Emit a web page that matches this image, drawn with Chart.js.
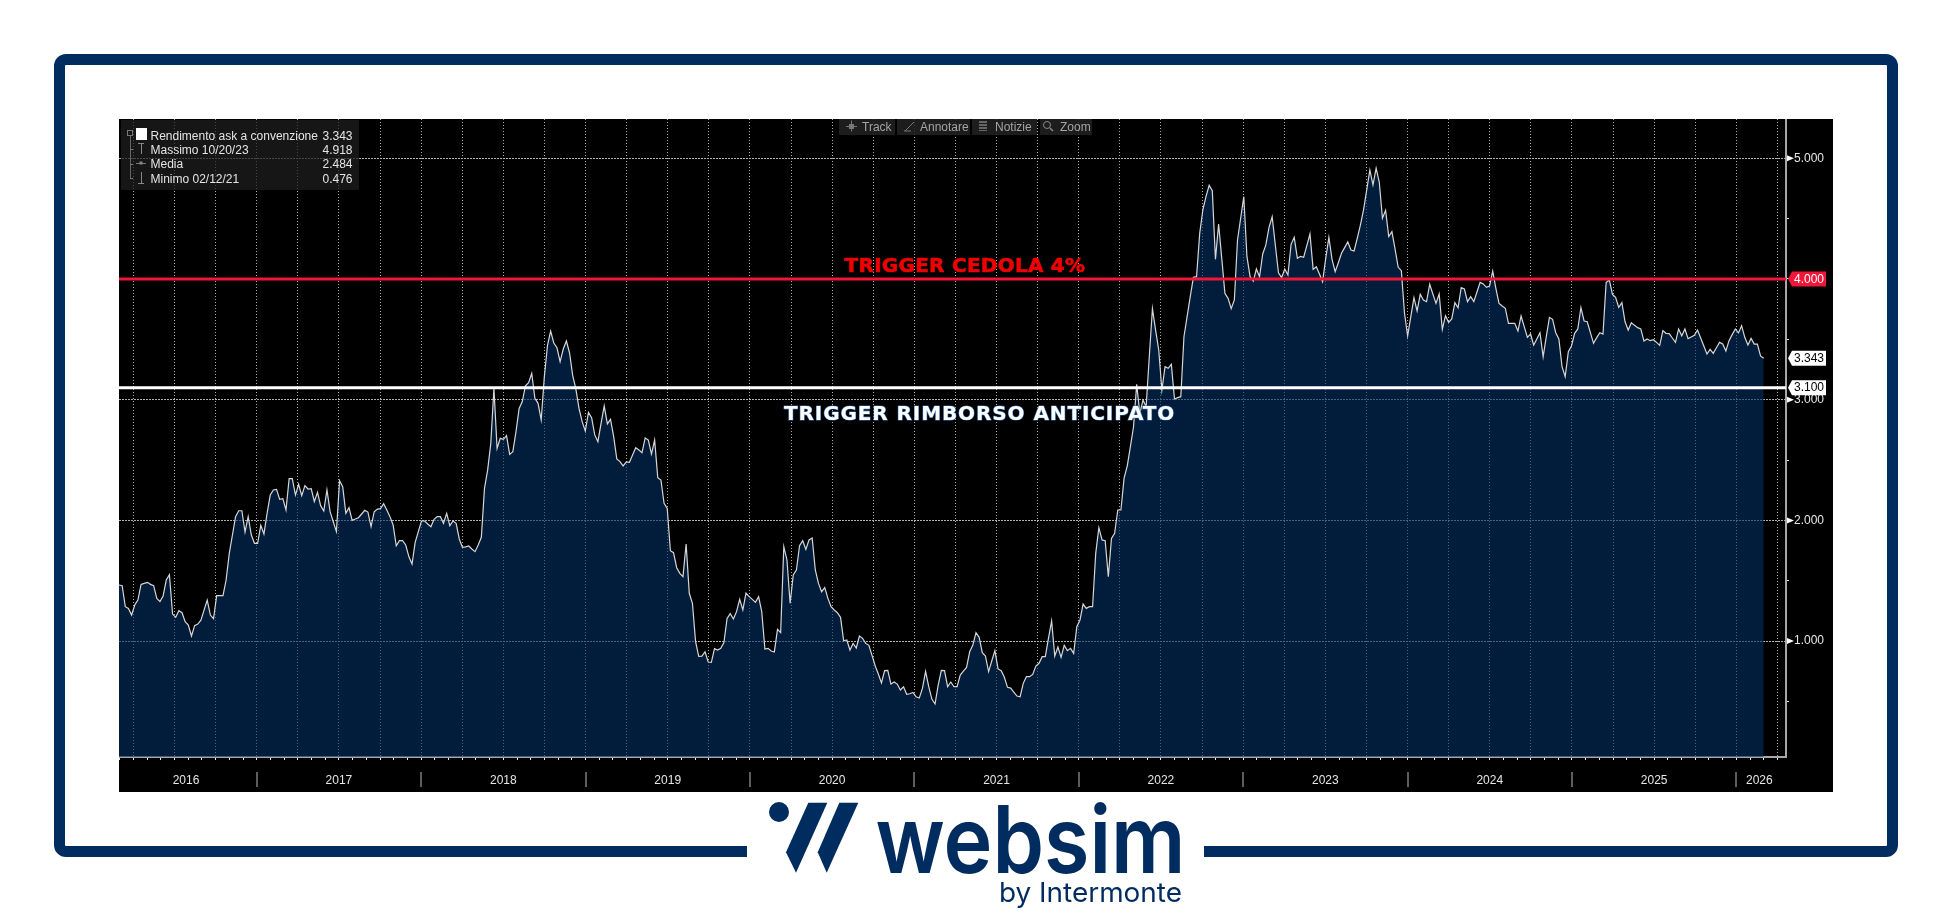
<!DOCTYPE html>
<html lang="it">
<head>
<meta charset="utf-8">
<title>Rendimento ask a convenzione</title>
<script src="https://cdn.jsdelivr.net/npm/chart.js@4/dist/chart.umd.min.js"></script>
<style>
    html, body { margin: 0; padding: 0; background: #fff; }
    body { position: relative; width: 1952px; height: 911px; overflow: hidden; }
    #cornice { position: absolute; left: 54px; top: 54px; width: 1822px; height: 781px; border: 11px solid #002c5f; border-radius: 12px; }
    #pannello { position: absolute; left: 119px; top: 119px; width: 1714px; height: 673px; background: #000; }
    #sopra { position: absolute; left: 0; top: 0; }
</style>
</head>
<body>
<div id="cornice"></div>
<div id="pannello"><canvas id="grafico"></canvas></div>
<svg id="sopra" width="1952" height="911" xmlns="http://www.w3.org/2000/svg"></svg>

<script>
// un valore per settimana
const yieldSeries = [
    1.465,1.459,1.285,1.27,1.216,1.299,1.34,1.47,1.478,1.487,
    1.47,1.459,1.354,1.327,1.374,1.506,1.55,1.224,1.197,1.252,
    1.235,1.161,1.133,1.042,1.128,1.141,1.174,1.257,1.34,1.216,
    1.186,1.376,1.376,1.376,1.506,1.727,1.879,2.031,2.08,2.08,
    1.904,2.031,1.879,1.81,1.81,1.959,1.887,2.058,2.21,2.252,
    2.257,2.174,2.18,2.086,2.346,2.346,2.21,2.299,2.205,2.288,
    2.26,2.263,2.155,2.232,2.122,2.078,2.252,2.072,1.989,1.907,
    2.329,2.279,2.058,2.105,2.0,2.011,2.022,2.053,2.083,2.069,
    1.948,2.072,2.094,2.097,2.138,2.086,2.031,1.962,1.79,1.832,
    1.832,1.796,1.7,1.639,1.818,1.907,1.995,1.995,1.97,1.948,
    2.009,2.031,2.031,1.976,2.058,1.956,1.995,1.976,1.846,1.777,
    1.78,1.788,1.763,1.741,1.796,1.86,2.265,2.417,2.638,3.094,
    2.597,2.68,2.672,2.702,2.547,2.569,2.735,2.928,2.984,3.116,
    3.141,3.218,3.011,2.97,2.832,3.191,3.45,3.569,3.47,3.43,
    3.315,3.42,3.486,3.387,3.2,3.09,2.928,2.818,2.741,2.895,
    2.851,2.708,2.652,2.804,2.948,2.799,2.837,2.694,2.509,2.487,
    2.451,2.484,2.481,2.542,2.602,2.583,2.561,2.683,2.666,2.55,
    2.666,2.354,2.335,2.141,2.1,1.749,1.733,1.608,1.561,1.534,
    1.804,1.396,1.313,0.995,0.874,0.876,0.912,0.827,0.824,0.937,
    0.926,0.94,0.987,1.188,1.227,1.183,1.244,1.346,1.258,1.398,
    1.368,1.346,1.321,1.368,1.244,0.934,0.94,0.918,0.91,1.097,
    1.07,1.782,1.672,1.313,1.548,1.589,1.791,1.832,1.76,1.838,
    1.854,1.589,1.478,1.409,1.443,1.354,1.285,1.258,1.235,1.197,
    1.003,1.009,0.926,0.981,0.943,1.042,1.023,0.981,0.965,0.882,
    0.796,0.727,0.653,0.755,0.758,0.644,0.661,0.644,0.595,0.622,
    0.559,0.564,0.575,0.539,0.528,0.608,0.749,0.622,0.52,0.479,
    0.636,0.758,0.755,0.622,0.661,0.622,0.622,0.719,0.752,0.782,
    0.912,0.968,1.07,1.031,0.904,0.876,0.747,0.835,0.921,0.769,
    0.755,0.7,0.617,0.611,0.578,0.545,0.539,0.65,0.705,0.705,
    0.724,0.793,0.816,0.871,0.871,1.023,1.166,0.876,0.951,0.865,
    0.965,0.921,0.94,0.898,1.119,1.175,1.307,1.271,1.285,1.285,
    1.727,1.94,1.838,1.832,1.534,1.851,1.893,2.086,2.086,2.35,
    2.45,2.611,2.776,3.127,2.887,2.997,2.942,3.356,3.754,3.577,
    3.412,3.08,3.274,3.26,3.293,3.006,3.017,3.025,3.522,3.688,
    3.854,4.014,4.019,4.378,4.572,4.682,4.776,4.732,4.163,4.456,
    4.171,3.881,3.84,3.754,3.826,4.323,4.503,4.682,4.185,4.019,
    3.983,4.083,4.019,4.207,4.282,4.428,4.516,4.282,4.052,4.011,
    4.083,4.033,4.287,4.345,4.171,4.188,4.18,4.276,4.373,4.08,
    4.102,4.041,3.978,4.171,4.345,4.163,4.061,4.135,4.213,4.26,
    4.307,4.24,4.232,4.337,4.447,4.572,4.737,4.903,4.779,4.918,
    4.801,4.503,4.569,4.351,4.392,4.25,4.097,4.069,3.716,3.528,
    3.688,3.845,3.735,3.873,3.826,3.812,3.956,3.876,3.798,3.876,
    3.583,3.696,3.641,3.669,3.804,3.762,3.928,3.917,3.812,3.854,
    3.812,3.892,3.972,3.959,3.931,3.942,4.066,3.923,3.798,3.776,
    3.757,3.633,3.633,3.633,3.569,3.693,3.605,3.517,3.544,3.453,
    3.503,3.555,3.356,3.522,3.682,3.666,3.555,3.503,3.273,3.191,
    3.398,3.445,3.55,3.586,3.762,3.652,3.646,3.555,3.467,3.514,
    3.555,3.544,3.97,3.992,3.873,3.848,3.765,3.804,3.646,3.577,
    3.638,3.616,3.597,3.586,3.486,3.503,3.489,3.497,3.475,3.45,
    3.572,3.55,3.547,3.511,3.475,3.586,3.53,3.586,3.506,3.519,
    3.533,3.577,3.511,3.445,3.378,3.417,3.384,3.431,3.475,3.461,
    3.403,3.489,3.539,3.586,3.553,3.613,3.517,3.453,3.508,3.461,
    3.461,3.362,3.343
];

const firstYear = 2016.1624;
const lastYear = 2026.302;
const weeksPerYear = 52.18;

const yearNames = ['2016', '2017', '2018', '2019', '2020', '2021', '2022', '2023', '2024', '2025', '2026'];
const yearCentres = [2016.57, 2017.5, 2018.5, 2019.5, 2020.5, 2021.5, 2022.5, 2023.5, 2024.5, 2025.5, 2026.14];
const yearStarts = [2017, 2018, 2019, 2020, 2021, 2022, 2023, 2024, 2025, 2026];

const yTicks = [0.5, 1, 1.5, 2, 2.5, 3, 3.5, 4, 4.5, 5];
const yLabelled = [1, 2, 3, 5];

const triggerCedola = 4;
const triggerRimborso = 3.1;
const lastValue = 3.343;

const legendRows = [
    ['Rendimento ask a convenzione', '3.343'],
    ['Massimo 10/20/23', '4.918'],
    ['Media', '2.484'],
    ['Minimo 02/12/21', '0.476']
];
const toolbarItems = ['Track', 'Annotare', 'Notizie', 'Zoom'];

const AXIS_FONT = '"Liberation Sans", Arial, sans-serif';
const NAVY = '#002c5f';

// tacche mensili, griglia solo ogni trimestre
const monthTicks = [];
for (let y = 2016; y <= 2026; y++) {
    for (let m = 0; m < 12; m++) {
        const v = y + m / 12;
        if (v > firstYear && v < lastYear) monthTicks.push({ v: v, quarter: m % 3 === 0 });
    }
}
const extraCentres = yearCentres.filter(c => !monthTicks.some(t => Math.abs(t.v - c) < 0.001));

function isQuarter(value) {
    return monthTicks.some(t => t.quarter && Math.abs(t.v - value) < 0.001);
}
function isExtra(value) {
    return extraCentres.some(c => Math.abs(c - value) < 0.001);
}
// niente margini extra: l'area del grafico arriva al bordo del pannello
function noPadding(scale) {
    scale.paddingLeft = 0;
    scale.paddingRight = 0;
    scale.paddingTop = 0;
    scale.paddingBottom = 0;
}

const yieldPoints = yieldSeries.map((v, i) => ({ x: firstYear + i / weeksPerYear, y: v }));

// separatori anni, etichette valore a destra e scritte sul grafico
const overlayPlugin = {
    id: 'overlay',
    afterDatasetsDraw(chart) {
        const { ctx, scales: { x, y }, chartArea } = chart;

        ctx.save();
        ctx.strokeStyle = '#7c7c7c';
        ctx.lineWidth = 1.5;
        yearStarts.forEach(year => {
            const px = Math.round(x.getPixelForValue(year));
            ctx.beginPath();
            ctx.moveTo(px, chartArea.bottom + 15);
            ctx.lineTo(px, chartArea.bottom + 30);
            ctx.stroke();
        });

        // triangolini sulle tacche principali
        ctx.fillStyle = '#fff';
        yLabelled.forEach(v => {
            const py = y.getPixelForValue(v);
            ctx.beginPath();
            ctx.moveTo(chartArea.right + 1, py - 3);
            ctx.lineTo(chartArea.right + 8, py);
            ctx.lineTo(chartArea.right + 1, py + 3);
            ctx.fill();
        });

        const tag = (value, text, bg, fg) => {
            const py = y.getPixelForValue(value);
            const left = chartArea.right + 6;
            ctx.fillStyle = bg;
            ctx.beginPath();
            ctx.moveTo(chartArea.right + 2, py);
            ctx.lineTo(left, py - 7.5);
            ctx.lineTo(left + 34, py - 7.5);
            ctx.lineTo(left + 34, py + 7.5);
            ctx.lineTo(left, py + 7.5);
            ctx.closePath();
            ctx.fill();
            ctx.fillStyle = fg;
            ctx.font = '12px ' + AXIS_FONT;
            ctx.textAlign = 'center';
            ctx.textBaseline = 'middle';
            ctx.fillText(text, left + 17, py + 0.5);
        };
        tag(triggerCedola, triggerCedola.toFixed(3), '#ee1639', '#fff');
        tag(lastValue, lastValue.toFixed(3), '#fff', '#000');
        tag(triggerRimborso, triggerRimborso.toFixed(3), '#fff', '#000');

        ctx.font = 'bold 20px "DejaVu Sans", sans-serif';
        ctx.textAlign = 'center';
        ctx.textBaseline = 'alphabetic';
        ctx.lineJoin = 'round';

        ctx.letterSpacing = '0.25px';
        ctx.fillStyle = '#f00000';
        ctx.strokeStyle = '#f00000';
        ctx.lineWidth = 0.6;
        const cedolaX = x.getPixelForValue(2021.308);
        const cedolaY = y.getPixelForValue(triggerCedola) - 7;
        ctx.strokeText('TRIGGER CEDOLA 4%', cedolaX, cedolaY);
        ctx.fillText('TRIGGER CEDOLA 4%', cedolaX, cedolaY);

        // la scritta bianca ha un alone blu
        ctx.letterSpacing = '0.9px';
        ctx.fillStyle = '#fff';
        ctx.strokeStyle = '#2f6cb0';
        ctx.lineWidth = 1.2;
        const rimborsoX = x.getPixelForValue(2021.397);
        const rimborsoY = y.getPixelForValue(triggerRimborso) + 32;
        ctx.strokeText('TRIGGER RIMBORSO ANTICIPATO', rimborsoX, rimborsoY);
        ctx.fillText('TRIGGER RIMBORSO ANTICIPATO', rimborsoX, rimborsoY);
        ctx.letterSpacing = '0px';
        ctx.restore();
    }
};

new Chart(document.getElementById('grafico'), {
    type: 'line',
    data: {
        datasets: [
            {
                label: 'Rendimento ask a convenzione',
                data: yieldPoints,
                borderColor: '#d6d6d6',
                borderWidth: 1.2,
                backgroundColor: 'rgba(3, 48, 98, 0.6)',
                fill: 'start',
                tension: 0,
                pointRadius: 0,
                order: 2
            },
            {
                label: 'Trigger cedola',
                data: [{ x: firstYear, y: triggerCedola }, { x: lastYear, y: triggerCedola }],
                borderColor: '#ee1639',
                borderWidth: 3,
                pointRadius: 0,
                order: 1
            },
            {
                label: 'Trigger rimborso',
                data: [{ x: firstYear, y: triggerRimborso }, { x: lastYear, y: triggerRimborso }],
                borderColor: '#ffffff',
                borderWidth: 3,
                pointRadius: 0,
                order: 1
            }
        ]
    },
    options: {
        responsive: true,
        maintainAspectRatio: false,
        animation: false,
        plugins: { legend: { display: false }, tooltip: { enabled: false } },
        layout: { padding: 0 },
        scales: {
            x: {
                type: 'linear',
                min: firstYear,
                max: lastYear,
                afterBuildTicks(scale) {
                    scale.ticks = monthTicks.map(t => ({ value: t.v }))
                        .concat(extraCentres.map(c => ({ value: c })))
                        .sort((a, b) => a.value - b.value);
                },
                afterFit(scale) {
                    scale.height = 35;
                    noPadding(scale);
                },
                border: { color: '#a8a8a8', width: 2, dash: [1, 2] },
                grid: {
                    color: ctx => (ctx.tick && isQuarter(ctx.tick.value)) ? '#b0b0b0' : 'transparent',
                    tickColor: ctx => (ctx.tick && isExtra(ctx.tick.value)) ? 'transparent' : '#e8e8e8',
                    tickLength: 3,
                    lineWidth: 1
                },
                ticks: {
                    autoSkip: false,
                    maxRotation: 0,
                    padding: 13,
                    color: '#e6e6e6',
                    font: { family: AXIS_FONT, size: 12 },
                    callback(value) {
                        const i = yearCentres.findIndex(c => Math.abs(c - value) < 0.001);
                        return i >= 0 ? yearNames[i] : '';
                    }
                }
            },
            y: {
                type: 'linear',
                position: 'right',
                min: 0.0397,
                max: 5.3256,
                afterBuildTicks(scale) {
                    scale.ticks = yTicks.map(v => ({ value: v }));
                },
                afterFit(scale) {
                    scale.width = 47;
                    noPadding(scale);
                },
                border: { color: '#a8a8a8', width: 2, dash: [2, 1] },
                grid: {
                    color: ctx => (ctx.tick && Number.isInteger(ctx.tick.value)) ? '#b0b0b0' : 'transparent',
                    tickColor: '#e8e8e8',
                    tickLength: 3,
                    lineWidth: 1
                },
                ticks: {
                    padding: 5,
                    color: '#e6e6e6',
                    font: { family: AXIS_FONT, size: 12 },
                    callback(value) {
                        return yLabelled.includes(value) ? value.toFixed(3) : '';
                    }
                }
            }
        }
    },
    plugins: [overlayPlugin]
});

// legenda, barra strumenti e logo sopra il grafico
let svg = '';
const rect = (x, y, w, h, fill) => `<rect x="${x}" y="${y}" width="${w}" height="${h}" fill="${fill}"/>`;
const text = (x, y, s, fill, anchor) =>
    `<text x="${x}" y="${y}" fill="${fill}" text-anchor="${anchor || 'start'}" font-family='"Liberation Sans", Arial, sans-serif' font-size="12">${s}</text>`;

svg += rect(121, 120, 238, 70, 'rgba(30,30,30,0.72)');
legendRows.forEach((row, i) => {
    const baseline = 139.5 + i * 14.4;
    svg += text(150.5, baseline, row[0], '#e4e4e4');
    svg += text(352.5, baseline, row[1], '#e4e4e4', 'end');
});
svg += rect(136, 128, 11, 12, '#fff');
svg += '<rect x="127.5" y="130.5" width="5" height="5" fill="none" stroke="#777"/>';
svg += rect(130, 136, 1, 42, '#666');
[149, 164, 178].forEach(y => { svg += rect(130, y, 3, 1, '#777'); });
svg += rect(138, 143, 6, 1, '#888') + rect(141, 143, 1, 11, '#888');
svg += rect(136, 163, 10, 1, '#777') + rect(139.5, 161.5, 3, 3, '#888');
svg += rect(141, 172, 1, 11, '#888') + rect(138, 183, 6, 1, '#888');

const toolbarBoxes = [[839, 56], [897, 73], [972, 65], [1040, 52]];
const toolbarTextX = [862, 920, 995, 1060];
toolbarItems.forEach((label, i) => {
    svg += rect(toolbarBoxes[i][0], 119, toolbarBoxes[i][1], 16, 'rgba(34,34,34,0.85)');
    svg += text(toolbarTextX[i], 130.5, label, '#a4a4a4');
});
svg += rect(846, 126, 11, 1, '#777') + rect(851, 120.5, 1, 11, '#777') + rect(849, 124, 5, 5, '#777');
svg += '<path d="M905 131 L914 122 M904 131 H911" stroke="#777" stroke-width="1" fill="none"/>';
svg += rect(979, 121, 8, 2, '#666') + rect(979, 124, 8, 2, '#666') + rect(979, 127, 8, 2, '#666') + rect(979, 130, 8, 1, '#666');
svg += '<circle cx="1047" cy="125" r="3.5" fill="none" stroke="#888"/><path d="M1050 128 L1053 131" stroke="#888" stroke-width="1.5"/>';

// interruzione della cornice in basso, con il logo
svg += rect(747, 840, 457, 20, '#fff');
svg += `<circle cx="779" cy="812" r="10" fill="${NAVY}"/>`;
svg += `<polygon points="808.3,802.7 827.3,802.7 796,872.7 786,852.3" fill="${NAVY}"/>`;
svg += `<polygon points="839.3,802.7 858.3,802.7 826.7,872.7 817.7,852.3" fill="${NAVY}"/>`;
svg += `<text x="875.5" y="873" fill="${NAVY}" font-family="Inter, Roboto, sans-serif" font-weight="600" font-size="93" textLength="310" lengthAdjust="spacingAndGlyphs">websim</text>`;
svg += `<text x="999" y="901.5" fill="${NAVY}" font-family="Inter, Roboto, sans-serif" font-weight="400" font-size="27.5" textLength="183" lengthAdjust="spacingAndGlyphs">by Intermonte</text>`;
document.getElementById('sopra').innerHTML = svg;
</script>
</body>
</html>
